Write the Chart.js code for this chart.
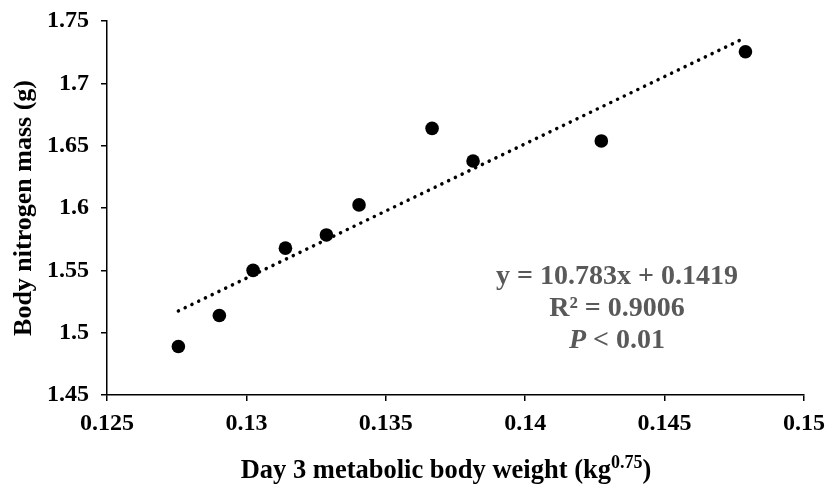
<!DOCTYPE html>
<html>
<head>
<meta charset="utf-8">
<script src="https://cdn.jsdelivr.net/npm/chart.js@4"></script>
<style>
  html, body { margin: 0; padding: 0; background: #fff; }
  #wrap { width: 827px; height: 486px; }
</style>
</head>
<body>
<div id="wrap"><canvas id="chart" width="827" height="486"></canvas></div>
<script>
// metabolic body weight (kg^0.75) vs body nitrogen mass (g)
const weights = [0.12756, 0.12903, 0.13024, 0.13140, 0.13287, 0.13404, 0.13666, 0.13813, 0.14273, 0.14790];
const nitrogen = [1.4889, 1.5138, 1.5500, 1.5678, 1.5784, 1.6025, 1.6639, 1.6377, 1.6538, 1.7253];

// linear trendline end points
const trendX = [0.12756, 0.14790];
const trendY = [1.5174, 1.7367];

const xTicks = [0.125, 0.13, 0.135, 0.14, 0.145, 0.15];
const xTickLabels = ["0.125", "0.13", "0.135", "0.14", "0.145", "0.15"];
const yTicks = [1.45, 1.5, 1.55, 1.6, 1.65, 1.7, 1.75];
const yTickLabels = ["1.45", "1.5", "1.55", "1.6", "1.65", "1.7", "1.75"];

const statLines = ["y = 10.783x + 0.1419", "R² = 0.9006", "< 0.01"];

const serif = "'Liberation Serif', 'Times New Roman', serif";

const extras = {
    id: "extras",
    afterDraw(chart) {
        const ctx = chart.ctx;
        ctx.save();
        // regression text
        ctx.fillStyle = "#595959";
        ctx.textAlign = "center";
        ctx.textBaseline = "middle";
        ctx.font = "bold 28px " + serif;
        const cx = 617;
        ctx.fillText(statLines[0], cx, 277);
        ctx.fillText(statLines[1], cx, 309);
        ctx.font = "italic bold 28px " + serif;
        const pw = ctx.measureText("P ").width;
        ctx.font = "bold 28px " + serif;
        const rw = ctx.measureText(statLines[2]).width;
        const left = cx - (pw + rw) / 2;
        ctx.textAlign = "left";
        ctx.font = "italic bold 28px " + serif;
        ctx.fillText("P ", left, 341);
        ctx.font = "bold 28px " + serif;
        ctx.fillText(statLines[2], left + pw, 341);

        // x axis title with superscript
        ctx.fillStyle = "#000";
        ctx.textBaseline = "alphabetic";
        const main = "Day 3 metabolic body weight (kg";
        const sup = "0.75";
        const close = ")";
        ctx.font = "bold 26.5px " + serif;
        const mw = ctx.measureText(main).width;
        const cw = ctx.measureText(close).width;
        ctx.font = "bold 18px " + serif;
        const sw = ctx.measureText(sup).width;
        let x = 446 - (mw + sw + cw) / 2;
        const base = 478;
        ctx.font = "bold 26.5px " + serif;
        ctx.fillText(main, x, base);
        x += mw;
        ctx.font = "bold 18px " + serif;
        ctx.fillText(sup, x, base - 10);
        x += sw;
        ctx.font = "bold 26.5px " + serif;
        ctx.fillText(close, x, base);
        ctx.restore();
    }
};

new Chart(document.getElementById("chart"), {
    type: "scatter",
    data: {
        datasets: [{
            label: "trend",
            type: "line",
            data: trendX.map((x, i) => ({ x: x, y: trendY[i] })),
            borderColor: "#000",
            borderWidth: 3.5,
            borderDash: [0.1, 7.4],
            borderCapStyle: "round",
            pointRadius: 0,
            fill: false,
        }, {
            label: "data",
            data: weights.map((x, i) => ({ x: x, y: nitrogen[i] })),
            backgroundColor: "#000",
            borderWidth: 0,
            pointRadius: 6.8,
            pointHoverRadius: 6.8,
        }],
    },
    options: {
        responsive: false,
        animation: false,
        events: [],
        layout: { padding: { left: 0, top: 21, right: 23, bottom: 0 } },
        plugins: {
            legend: { display: false },
            tooltip: { enabled: false },
        },
        scales: {
            x: {
                type: "linear",
                min: 0.125,
                max: 0.15,
                afterBuildTicks: (s) => { s.ticks = xTicks.map(v => ({ value: v })); },
                afterFit: (s) => { s.height = 91; s.paddingLeft = 0; s.paddingRight = 0; },
                ticks: {
                    callback: (v, i) => xTickLabels[i],
                    color: "#000",
                    font: { family: serif, size: 24, weight: "bold" },
                    padding: 8,
                    maxRotation: 0,
                },
                grid: { drawOnChartArea: false, drawTicks: true, tickLength: 6, color: "#000", lineWidth: 1.5 },
                border: { color: "#000", width: 1.5 },
            },
            y: {
                type: "linear",
                min: 1.45,
                max: 1.75,
                afterBuildTicks: (s) => { s.ticks = yTicks.map(v => ({ value: v })); },
                afterFit: (s) => { s.width = 107; s.paddingTop = 0; s.paddingBottom = 0; },
                ticks: {
                    callback: (v, i) => yTickLabels[i],
                    color: "#000",
                    font: { family: serif, size: 24, weight: "bold" },
                    padding: 12,
                },
                grid: { drawOnChartArea: false, drawTicks: true, tickLength: 6, color: "#000", lineWidth: 1.5 },
                border: { color: "#000", width: 1.5 },
                title: {
                    display: true,
                    text: "Body nitrogen mass (g)",
                    color: "#000",
                    font: { family: serif, size: 26, weight: "bold" },
                    padding: { top: 9, bottom: 0 },
                },
            },
        },
    },
    plugins: [extras],
});
</script>
</body>
</html>
